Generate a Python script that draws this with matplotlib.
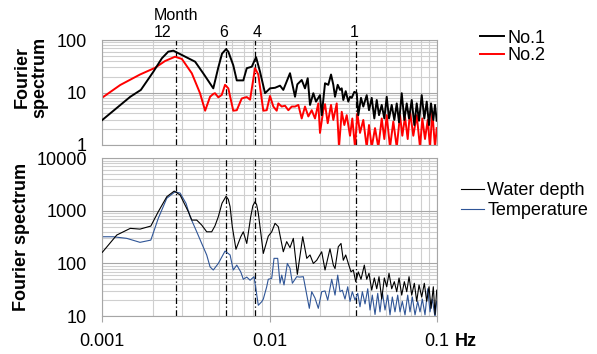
import matplotlib
matplotlib.use("Agg")
import matplotlib.pyplot as plt
from matplotlib.ticker import LogLocator, NullFormatter
from matplotlib.transforms import blended_transform_factory

plt.rcParams['font.family'] = ['Liberation Sans', 'DejaVu Sans']

# === Data ===
# upper panel: No.1 / No.2
f_no1 = [0.001, 0.00147, 0.0017, 0.00202, 0.00227, 0.00248, 0.00266, 0.00322, 0.00359, 0.00406,
         0.00461, 0.00494, 0.0052, 0.0055, 0.00567, 0.00607, 0.00637, 0.00697, 0.00731, 0.00783,
         0.00831, 0.00877,
         0.0094, 0.01007, 0.01079, 0.01156, 0.01209, 0.01326, 0.01421, 0.01467, 0.01558, 0.0163,
         0.01692, 0.01747, 0.01828, 0.01897, 0.02004, 0.02052, 0.02148, 0.02247, 0.02333, 0.02408,
         0.02465, 0.02558, 0.02641, 0.02703, 0.02763, 0.02856, 0.0296, 0.0303, 0.03102, 0.03216,
         0.03324, 0.03397, 0.03526, 0.03639, 0.03814, 0.03936, 0.04086, 0.04235, 0.04378, 0.04518,
         0.0469, 0.04861, 0.05023, 0.05185, 0.05381, 0.05578, 0.05767, 0.05953, 0.06177, 0.06403,
         0.06618, 0.06831, 0.07089, 0.07348, 0.07594, 0.07839, 0.08135, 0.08432, 0.08715, 0.08995,
         0.09246, 0.09543, 0.0977, 0.1]
s_no1 = [3.0, 8.3, 11.2, 24.9, 44.8, 60, 62.6, 46, 38.6, 22,
         12, 30, 55, 67, 60, 33, 17, 17, 29, 31,
         47, 25,
         9.7, 12, 12.3, 13.5, 11.2, 23.3, 8.3, 14.3, 17.3, 12,
         18.7, 5.8, 9.7, 6.7, 8.9, 3.7, 15, 14, 22, 14,
         8.3, 14, 11.2, 12, 7.2, 10.6, 6.7, 8.3, 7.9, 10.3,
         9.7, 3.7, 7.9, 5.4, 8.9, 4.6, 7.9, 3.2, 7.2, 3.7,
         5.8, 3.2, 8.3, 3.2, 5.8, 3.0, 6.2, 2.7, 9.7, 3.0,
         6.2, 3.2, 7.2, 2.4, 6.2, 2.9, 8.9, 3.2, 6.7, 2.4,
         6.2, 3.0, 5.8, 2.9]

f_no2 = [0.001, 0.00128, 0.00168, 0.00207, 0.00237, 0.00272, 0.00299, 0.00343, 0.00384, 0.00412,
         0.00441, 0.00461, 0.00472, 0.00494, 0.00518, 0.00542, 0.00567, 0.00607, 0.00637, 0.00682,
         0.00731, 0.00765, 0.00819, 0.00857, 0.00918, 0.00962, 0.01007, 0.01054, 0.01104, 0.01129,
         0.01183, 0.01238, 0.01296, 0.01358, 0.01421, 0.01487, 0.01558, 0.0163, 0.01707, 0.01788,
         0.01871, 0.01958, 0.02004, 0.02098, 0.02148, 0.02229, 0.02333, 0.02408, 0.02523, 0.02604,
         0.02703, 0.02802, 0.02895, 0.0303, 0.03128, 0.03246, 0.03351, 0.03477, 0.03639, 0.03814,
         0.03936, 0.04086, 0.04276, 0.04475, 0.0469, 0.04861, 0.05023, 0.05256, 0.05501, 0.05767,
         0.06033, 0.06227, 0.06462, 0.06707, 0.06923, 0.07245, 0.07594, 0.07947, 0.08202, 0.08511,
         0.08835, 0.0912, 0.09413, 0.0977, 0.1]
s_no2 = [8.0, 13.9, 22, 29.6, 39.7, 48, 43.6, 23.2, 9.7, 4.5,
         8.3, 9.4, 9.7, 8.1, 9.0, 14, 12, 4.5, 4.6, 7.7,
         8.2, 7.3, 29, 22, 4.5, 4.6, 8.6, 5.4, 4.5, 6.2,
         5.4, 5.6, 4.6, 5.4, 5.4, 5.8, 3.2, 5.4, 3.5, 4.6,
         3.2, 6.2, 1.7, 4.6, 6.0, 2.6, 5.8, 3.0, 6.2, 0.9,
         4.3, 2.4, 3.7, 1.5, 3.2, 0.9, 4.0, 1.7, 3.0, 0.9,
         2.4, 0.9, 2.1, 0.9, 3.2, 1.3, 3.7, 0.9, 2.8, 0.9,
         3.7, 1.5, 3.4, 1.3, 4.3, 1.5, 3.7, 0.9, 3.2, 1.3,
         3.0, 0.9, 4.3, 0.9, 2.1]

# lower panel: water depth / temperature
f_depth = [0.001, 0.00122, 0.00147, 0.00168, 0.00195, 0.00216, 0.00243, 0.00269, 0.00292, 0.00327,
           0.00343, 0.00367, 0.00393, 0.00421, 0.00451, 0.00472, 0.00494, 0.0052, 0.0055, 0.00567,
           0.00581, 0.00599, 0.0063, 0.00673, 0.00697, 0.00731, 0.00772, 0.00795, 0.00819, 0.00838,
           0.00857, 0.00898, 0.00918, 0.00983,
           0.01031, 0.01079, 0.01129, 0.01209, 0.01267, 0.01326, 0.01388, 0.01467, 0.0158, 0.0167,
           0.01747, 0.01828, 0.01916, 0.02052, 0.02148, 0.0230, 0.02408, 0.02465, 0.02579, 0.02677,
           0.02763, 0.02856, 0.0296, 0.03072, 0.03171, 0.03278, 0.03397, 0.03526, 0.0369, 0.03814,
           0.03936, 0.04086, 0.04235, 0.04378, 0.04518, 0.0469, 0.04861, 0.05023, 0.05185, 0.05381,
           0.05578, 0.05767, 0.05953, 0.06177, 0.06403, 0.06618, 0.06831, 0.07089, 0.07348, 0.07594,
           0.07839, 0.08135, 0.08432, 0.08715, 0.08995, 0.09246, 0.09543, 0.0977, 0.1]
s_depth = [163, 347, 465, 450, 514, 962, 1860, 2380, 2000, 962,
           668, 668, 537, 400, 400, 520, 775, 1400, 1900, 1650,
           1200, 500, 186, 322, 400, 240, 775, 1250, 1490, 1300,
           900, 278, 155, 330,
           400, 580, 500, 167, 260, 200, 300, 62, 322, 125,
           145, 100, 115, 167, 75, 190, 93, 80, 208, 240,
           115, 145, 100, 69, 75, 45, 69, 50, 93, 50,
           65, 31, 53, 33, 56, 21, 53, 36, 65, 33,
           45, 29, 53, 25, 45, 29, 56, 25, 42, 19,
           39, 23, 42, 19, 36, 14, 36, 10.7, 31]

f_temp = [0.001, 0.00116, 0.0014, 0.00168, 0.00195, 0.00216, 0.00243, 0.00272, 0.00292, 0.00317,
          0.00335, 0.00367, 0.00393, 0.00421, 0.00441, 0.00461, 0.00494, 0.00542, 0.00581, 0.00607,
          0.00637, 0.00673, 0.00697, 0.00731, 0.00765, 0.00808, 0.00831, 0.00857, 0.00898, 0.00918,
          0.00962, 0.00983, 0.01031, 0.01064, 0.01119, 0.01156, 0.01183, 0.01221, 0.01278, 0.01326,
          0.0137, 0.01455, 0.01513, 0.01593, 0.0173, 0.01788, 0.01871, 0.01958, 0.02052, 0.02148,
          0.02229, 0.02355, 0.02465, 0.02558, 0.02641, 0.02725, 0.02828, 0.02936, 0.0303, 0.03128,
          0.03246, 0.0337, 0.03477, 0.03591, 0.03727, 0.03868, 0.03992, 0.04119, 0.04276, 0.04438,
          0.0458, 0.04728, 0.04907, 0.05093, 0.05256, 0.05426, 0.0563, 0.05844, 0.06033, 0.06227,
          0.06462, 0.06707, 0.06923, 0.07146, 0.07418, 0.07699, 0.07947, 0.08202, 0.08511, 0.08835,
          0.0912, 0.09413, 0.0977, 0.1]
s_temp = [322, 322, 300, 252, 278, 719, 1740, 2300, 2180, 1380,
          775, 400, 240, 145, 86, 75, 100, 172, 145, 75,
          93, 69, 50, 55, 48, 56, 31, 16, 18.7, 21,
          36, 50, 52, 125, 125, 42, 60, 39, 100, 81,
          42, 56, 55, 56, 14, 29, 22, 14, 29, 30,
          20, 50, 25, 60, 29, 31, 21, 36, 19, 29,
          20, 27, 15, 29, 17, 33, 13, 25, 10.7, 27,
          12, 29, 13, 25, 10.5, 23, 12, 25, 12, 19,
          10.5, 25, 12, 23, 10.5, 19, 12, 21, 10.5, 33,
          12, 21, 9.5, 19]

# periods marked above the chart (months) and their frequencies
month_labels = ["12", "6", "4", "1"]
month_freq = [0.00274, 0.00548, 0.00822, 0.0329]

# === Figure ===
fig = plt.figure(figsize=(5.97, 3.54), dpi=100)
ax_top = fig.add_axes([0.1714, 0.5904, 0.5601, 0.2966])
ax_bot = fig.add_axes([0.1714, 0.1073, 0.5601, 0.4455])

grid_major = '#A6A6A6'
grid_minor = '#CFCFCF'


def setup(ax, yticks):
    ax.set_xscale('log')
    ax.set_yscale('log')
    ax.set_xlim(0.001, 0.1)
    ax.set_ylim(yticks[0], yticks[-1])
    ax.xaxis.set_minor_locator(LogLocator(subs=range(2, 10), numticks=20))
    ax.yaxis.set_minor_locator(LogLocator(subs=range(2, 10), numticks=20))
    ax.xaxis.set_minor_formatter(NullFormatter())
    ax.yaxis.set_minor_formatter(NullFormatter())
    ax.set_yticks(yticks, [str(t) for t in yticks])
    ax.grid(which='major', color=grid_major, lw=0.8)
    ax.grid(which='minor', color=grid_minor, lw=0.8)
    ax.set_axisbelow(True)
    for s in ax.spines.values():
        s.set_color(grid_major)
        s.set_linewidth(0.8)
    ax.tick_params(which='both', length=0, labelsize=13, pad=11)
    for fm in month_freq:
        ax.axvline(fm, color='black', lw=0.9, dashes=(5, 2, 1, 2), zorder=1.5)


setup(ax_top, [1, 10, 100])
setup(ax_bot, [10, 100, 1000, 10000])

ax_top.set_xticks([0.001, 0.01, 0.1], ['', '', ''])
ax_bot.set_xticks([0.001, 0.01, 0.1], ['0.001', '0.01', '0.1'])
ax_bot.tick_params(axis='x', which='major', length=4, color=grid_major, pad=8)

# === Series ===
ax_top.plot(f_no1, s_no1, color='black', lw=1.4, label='No.1', zorder=3)
ax_top.plot(f_no2, s_no2, color='#FF0000', lw=1.4, label='No.2', zorder=2.5)
ax_bot.plot(f_depth, s_depth, color='black', lw=0.8, label='Water depth', zorder=3)
ax_bot.plot(f_temp, s_temp, color='#2F5597', lw=0.8, label='Temperature', zorder=2.5)

# === Month labels ===
trans = blended_transform_factory(ax_top.transData, ax_top.transAxes)
month_dx = [-9.5, -1.5, 1, -1.5]
for lab, fm, dx in zip(month_labels, month_freq, month_dx):
    ax_top.annotate(lab, (fm, 1.067), xycoords=trans, xytext=(dx, 0), textcoords='offset points',
                    ha='center', va='center', fontsize=11.5)
ax_top.text(month_freq[0], 1.229, "Month", transform=trans, ha='center', va='center', fontsize=11.5)

# === Axis titles ===
fig.text(31 / 597, 1 - 77 / 354, "Fourier\nspectrum", rotation=90, ha='center', va='center',
         fontsize=13, fontweight='bold', linespacing=1.05)
fig.text(21.5 / 597, 1 - 237 / 354, "Fourier spectrum", rotation=90, ha='center', va='center',
         fontsize=13, fontweight='bold')
fig.text(466 / 597, 1 - 341 / 354, "Hz", ha='center', va='center', fontsize=13, fontweight='bold')

# === Legends ===
ax_top.legend(loc='center left', bbox_to_anchor=(480 / 597, 1 - 47 / 354), bbox_transform=fig.transFigure,
              frameon=False, fontsize=13, handlelength=1.35, handletextpad=0.15, labelspacing=0.05,
              borderpad=0, borderaxespad=0)
ax_bot.legend(loc='center left', bbox_to_anchor=(461 / 597, 1 - 200.5 / 354), bbox_transform=fig.transFigure,
              frameon=False, fontsize=13, handlelength=1.3, handletextpad=0.15, labelspacing=0.15,
              borderpad=0, borderaxespad=0)

fig.savefig("out.png", dpi=100)
